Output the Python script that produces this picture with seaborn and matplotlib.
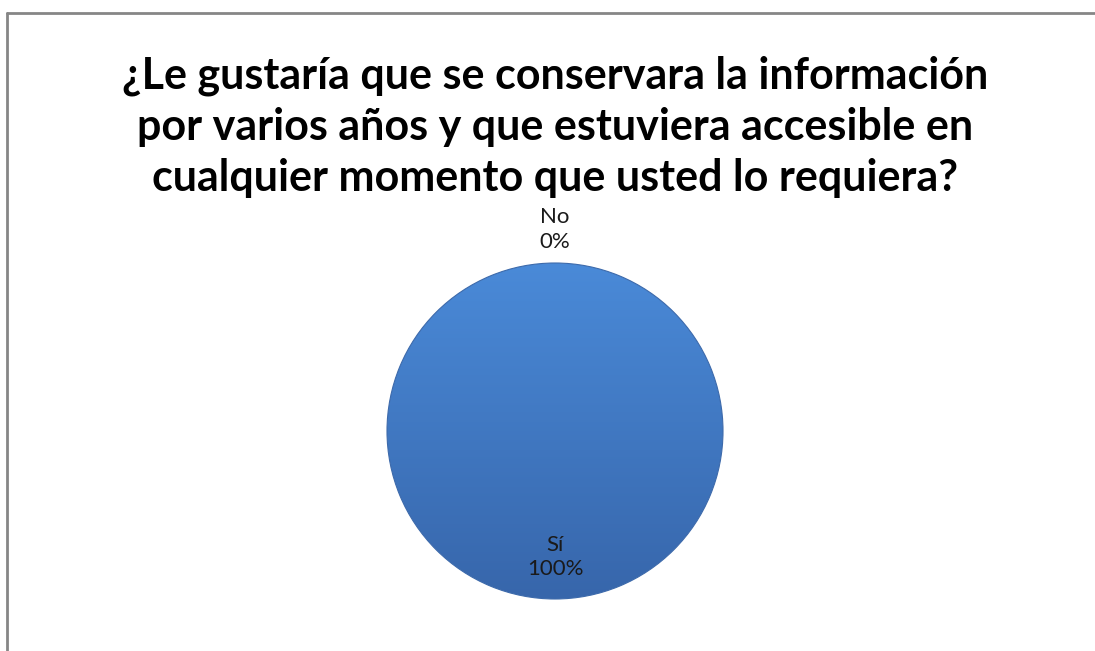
import numpy as np
import matplotlib
matplotlib.use("Agg")
import matplotlib.pyplot as plt
import seaborn as sns
from matplotlib.colors import LinearSegmentedColormap

# data
categories = ["Sí", "No"]
values = [100, 0]
title = ("¿Le gustaría que se conservara la información\n"
         "por varios años y que estuviera accesible en\n"
         "cualquier momento que usted lo requiera?")

sns.set_theme(style="white")
plt.rcParams["font.family"] = ["Lato", "DejaVu Sans"]

fig = plt.figure(figsize=(10.95, 6.51), dpi=100)
fig.patch.set_facecolor("white")

# frame (only top and left edges are visible in the original crop)
fig.add_artist(plt.Line2D([7 / 1095, 7 / 1095], [0, 1 - 13 / 651],
                          transform=fig.transFigure, color="#868686", lw=2))
fig.add_artist(plt.Line2D([7 / 1095, 1], [1 - 13 / 651, 1 - 13 / 651],
                          transform=fig.transFigure, color="#868686", lw=2))

fig.text(0.507, 1 - 127 / 651, title, ha="center", va="center",
         fontsize=31, fontweight="bold", color="black", linespacing=1.33)

r_px = 168
cx, cy = 555, 431
ax = fig.add_axes([(cx - r_px) / 1095, (651 - cy - r_px) / 651,
                   2 * r_px / 1095, 2 * r_px / 651])

wedges, _ = ax.pie(values, startangle=90, counterclock=False, radius=1,
                   colors=["#4279c4", "#c0504d"],
                   wedgeprops=dict(edgecolor="#3d6aab", linewidth=0.8))
ax.set_xlim(-1, 1)
ax.set_ylim(-1, 1)
ax.axis("off")

# vertical gradient on the slices
grad = LinearSegmentedColormap.from_list("g", ["#4a8ad8", "#3766ab"])
img = np.linspace(0, 1, 256).reshape(-1, 1)
for w in wedges:
    if w.theta2 - w.theta1 <= 0:
        continue
    im = ax.imshow(img, cmap=grad, extent=[-1, 1, -1, 1], origin="upper",
                   aspect="auto", zorder=w.get_zorder())
    im.set_clip_path(w)
    w.set_zorder(w.get_zorder() + 0.1)
    w.set_facecolor("none")
ax.set_xlim(-1, 1)
ax.set_ylim(-1, 1)

# data labels
total = sum(values)
for w, cat, v in zip(wedges, categories, values):
    mid = np.deg2rad((w.theta1 + w.theta2) / 2)
    dist = 1.2 if v == 0 else 0.75
    ax.text(dist * np.cos(mid), dist * np.sin(mid),
            f"{cat}\n{v / total:.0%}", ha="center", va="center",
            fontsize=16, color="#1a1a1a", linespacing=1.3, clip_on=False)

fig.savefig("out.png", dpi=100)
